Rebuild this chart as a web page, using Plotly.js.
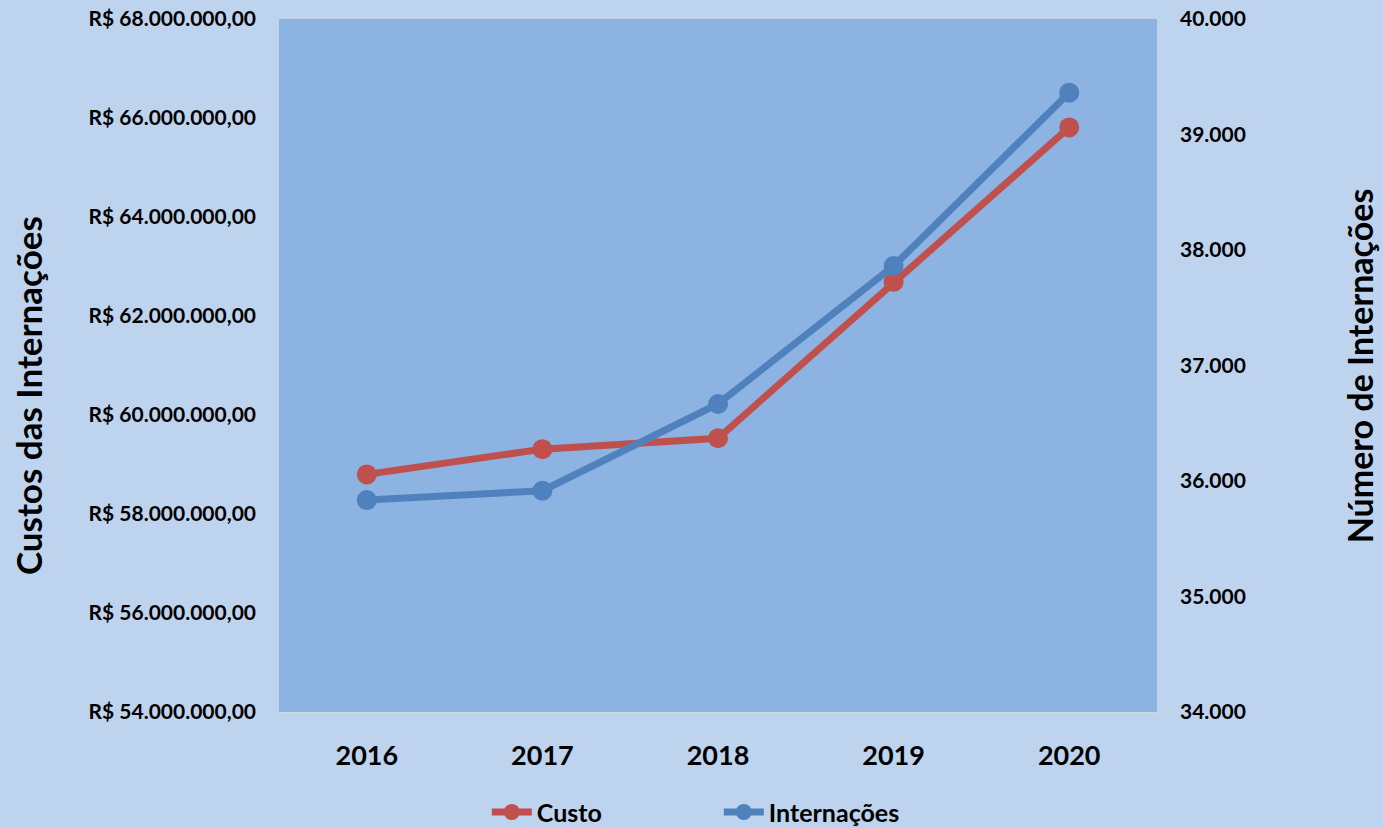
<!DOCTYPE html>
<html>
<head>
<meta charset="utf-8">
<script src="https://cdn.plot.ly/plotly-3.0.1.min.js"></script>
<style>html,body{margin:0;padding:0;background:#BED3EE;}#chart{width:1383px;height:828px;}</style>
</head>
<body>
<div id="chart"></div>
<script>
const anos = ['2016', '2017', '2018', '2019', '2020'];
const custo = [58800000, 59310000, 59530000, 62690000, 65810000];
const internacoes = [35835, 35916, 36667, 37861, 39362];
const custoTicks = [54000000, 56000000, 58000000, 60000000, 62000000, 64000000, 66000000, 68000000];
const internTicks = [34000, 35000, 36000, 37000, 38000, 39000, 40000];

function milhar(n) {
  return String(Math.round(n)).replace(/\B(?=(\d{3})+(?!\d))/g, '.');
}
const custoLabels = custoTicks.map(v => 'R$ ' + milhar(v) + ',00');
const internLabels = internTicks.map(v => milhar(v));

const FONT = 'Lato, "Open Sans", sans-serif';

const traces = [
  {
    x: anos, y: custo, name: 'Custo', type: 'scatter', mode: 'lines+markers',
    line: {color: '#C0504D', width: 7}, marker: {color: '#C0504D', size: 20},
    yaxis: 'y'
  },
  {
    x: anos, y: internacoes, name: 'Internações', type: 'scatter', mode: 'lines+markers',
    line: {color: '#4F81BD', width: 7}, marker: {color: '#4F81BD', size: 20},
    yaxis: 'y2'
  }
];

const layout = {
  width: 1383, height: 828,
  paper_bgcolor: '#BED3EE', plot_bgcolor: '#8DB3E2',
  margin: {l: 279, r: 226, t: 19, b: 116, pad: 0, autoexpand: false},
  font: {family: FONT, color: '#000000', size: 21, weight: 'bold'},
  showlegend: true,
  legend: {orientation: 'h', xref: 'container', yref: 'container',
           x: 0.352, xanchor: 'left', y: 0.019, yanchor: 'middle',
           entrywidth: 177, entrywidthmode: 'pixels',
           font: {family: FONT, size: 25, weight: 'bold', color: '#000'},
           bgcolor: 'rgba(0,0,0,0)', itemwidth: 40, tracegroupgap: 0},
  xaxis: {
    type: 'category', range: [-0.5, 4.5], showgrid: false, zeroline: false,
    showline: true, linecolor: '#D0D8E2', linewidth: 1,
    ticks: '', ticklabelstandoff: 20,
    tickfont: {family: FONT, size: 27, weight: 'bold', color: '#000'}
  },
  yaxis: {
    range: [54000000, 68000000], showgrid: false, zeroline: false, showline: false,
    tickvals: custoTicks, ticktext: custoLabels,
    tickfont: {family: FONT, size: 21, weight: 'bold', color: '#000'},
    ticks: '', ticklabelstandoff: 22
  },
  yaxis2: {
    range: [34000, 40000], overlaying: 'y', side: 'right', showgrid: false, zeroline: false, showline: false,
    tickvals: internTicks, ticktext: internLabels,
    tickfont: {family: FONT, size: 21, weight: 'bold', color: '#000'},
    ticks: '', ticklabelstandoff: 22
  },
  annotations: [
    {text: 'Custos das Internações', xref: 'paper', yref: 'paper',
     x: -0.285, y: 0.457, textangle: -90, showarrow: false, xanchor: 'center', yanchor: 'middle',
     font: {family: FONT, size: 35, weight: 'bold', color: '#000'}},
    {text: 'Número de Internações', xref: 'paper', yref: 'paper',
     x: 1.231, y: 0.5, textangle: -90, showarrow: false, xanchor: 'center', yanchor: 'middle',
     font: {family: FONT, size: 34, weight: 'bold', color: '#000'}}
  ]
};

Plotly.newPlot('chart', traces, layout, {displayModeBar: false, responsive: false});
</script>
</body>
</html>
